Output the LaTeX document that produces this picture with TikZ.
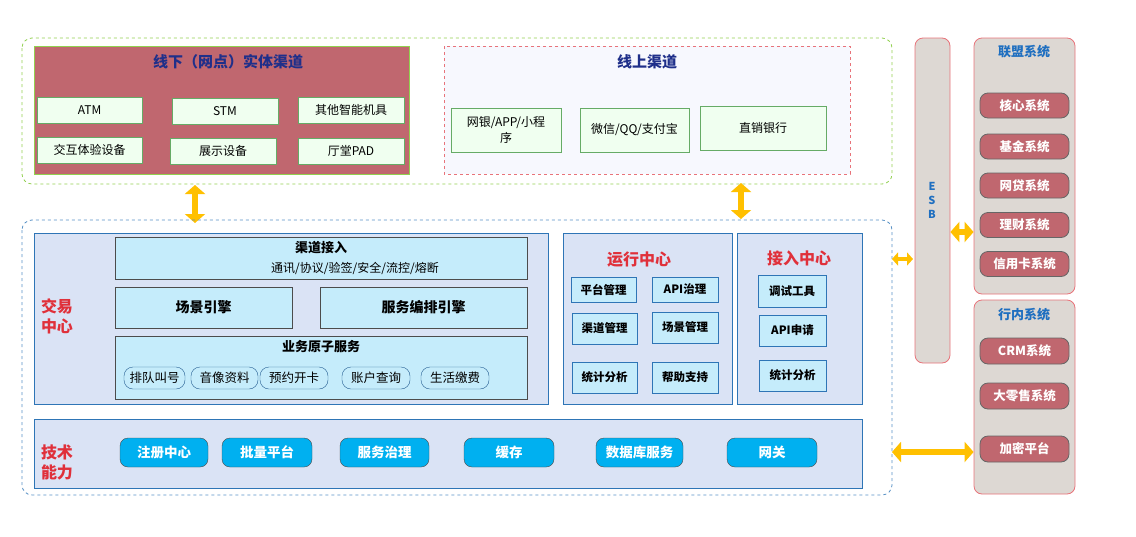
\documentclass[tikz,border=0pt]{standalone}
\usepackage{fontspec}
\setmainfont{Noto Sans CJK SC}
\usetikzlibrary{arrows.meta}
\definecolor{rosefill}{HTML}{C0676F}
\definecolor{dkblue}{HTML}{1F2F8A}
\definecolor{gborder}{HTML}{92D050}
\definecolor{panel}{HTML}{DAE3F5}
\definecolor{pblue}{HTML}{2E75B6}
\definecolor{lcyan}{HTML}{C5ECFB}
\definecolor{cyanb}{HTML}{00B0F0}
\definecolor{grayf}{HTML}{DDD8D3}
\definecolor{redb}{HTML}{E8737A}
\definecolor{ylw}{HTML}{FFC000}
\definecolor{titred}{HTML}{E0303A}
\definecolor{titblue}{HTML}{1F6FC0}
\newcommand{\fs}[1]{\fontsize{#1}{#1}\selectfont}
\begin{document}
\begin{tikzpicture}[x=1pt,y=-1pt,
 white box/.style={draw=green!45!black!60,fill=white!94!green,font=\fs{12},text=black},
 panelbox/.style={draw=pblue,fill=panel,line width=0.8pt},
 cbox/.style={draw=black!70,fill=lcyan,line width=0.8pt},
 sbox/.style={draw=pblue,fill=lcyan,line width=0.8pt,font=\fs{11.5}\bfseries},
 pill/.style={draw=pblue!80!black,fill=lcyan,rounded corners=9pt,font=\fs{12.5}},
 tpill/.style={draw=black!70,fill=cyanb,rounded corners=8pt,font=\fs{13.5}\bfseries,text=white},
 rpill/.style={draw=black!60,fill=rosefill,rounded corners=8pt,font=\fs{12.5}\bfseries,text=white,line width=0.8pt},
 yarr/.style={ylw,line width=6pt,{Triangle[length=9pt,width=20pt]}-{Triangle[length=9pt,width=20pt]}},
]
\useasboundingbox (0,0) rectangle (1136,536);
% top
\draw[gborder,dashed,rounded corners=10pt,line width=0.8pt] (22,38) rectangle (892,184);
\draw[gborder,fill=rosefill,line width=0.8pt] (34,46) rectangle (409,174);
\node[font=\fs{15}\bfseries,text=dkblue] (t1) at (228,62) {线下（网点）实体渠道};
\foreach \n/\a/\b/\c/\d/\t in {a1/37/97/142/123/ATM,a2/172/98/278/124/STM,a3/298/97/404/123/其他智能机具,a4/37/137/142/163/交互体验设备,a5/170/138/276/164/展示设备,a6/298/138/404/164/厅堂PAD}
  \node[white box,minimum width=\c-\a,minimum height=\d-\b,inner sep=0] (\n) at ({(\a+\c)/2},{(\b+\d)/2}) {\t};
\draw[redb,dashed,fill=green!8!blue!3!white,line width=0.8pt] (444,46) rectangle (850,174);
\node[font=\fs{15}\bfseries,text=dkblue] (t2) at (647,62) {线上渠道};
\node[white box,minimum width=110,minimum height=44,inner sep=0,align=center] (o1) at (506,130) {网银/APP/小程\\[2pt]序};
\node[white box,minimum width=109,minimum height=44,inner sep=0] (o2) at (634.5,130) {微信/QQ/支付宝};
\node[white box,minimum width=126,minimum height=44,inner sep=0] (o3) at (763,128) {直销银行};
% arrows top
\coordinate (u1) at (195,185); \coordinate (d1) at (195,223);
\coordinate (u2) at (741,183); \coordinate (d2) at (741,219);
\draw[yarr] (u1) -- (d1);
\draw[yarr] (u2) -- (d2);
% main
\draw[pblue!80,dashed,rounded corners=10pt,line width=0.8pt] (22,220) rectangle (892,495);
\draw[panelbox] (34,233) rectangle (548,404);
\node[font=\fs{16}\bfseries,text=titred,align=left] (jy) at (57,316) {交易\\[4pt]中心};
\node[cbox,minimum width=412,minimum height=42,inner sep=0] (qd) at (321,258) {};
\node[font=\fs{13}\bfseries] (qdt) at (321,248) {渠道接入};
\node[font=\fs{12}] (qds) at (355,268) {通讯/协议/验签/安全/流控/熔断};
\node[cbox,minimum width=177,minimum height=41,inner sep=0,font=\fs{14}\bfseries] (cj) at (203.5,307.5) {场景引擎};
\node[cbox,minimum width=207,minimum height=41,inner sep=0,font=\fs{14}\bfseries] (fw) at (423.5,307.5) {服务编排引擎};
\node[cbox,minimum width=412,minimum height=63,inner sep=0] (yw) at (321,367.5) {};
\node[font=\fs{13}\bfseries] (ywt) at (321,347) {业务原子服务};
\foreach \n/\a/\c/\t in {p1/124/185/排队叫号,p2/191/258/音像资料,p3/260/328/预约开卡,p4/342/410/账户查询,p5/421/489/生活缴费}
  \node[pill,minimum width=\c-\a,minimum height=22,inner sep=0] (\n) at ({(\a+\c)/2},378) {\t};
\draw[panelbox] (563,233) rectangle (732,404);
\node[font=\fs{16}\bfseries,text=titred] (yx) at (639,260) {运行中心};
\foreach \n/\a/\b/\c/\d/\t in {r1/571/277/636/302/平台管理,r2/652/277/718/302/API治理,r3/572/313/637/344/渠道管理,r4/652/312/718/343/场景管理,r5/572/362/637/393/统计分析,r6/652/362/718/393/帮助支持}
  \node[sbox,minimum width=\c-\a,minimum height=\d-\b,inner sep=0] (\n) at ({(\a+\c)/2},{(\b+\d)/2}) {\t};
\draw[panelbox] (737,233) rectangle (862,404);
\node[font=\fs{16}\bfseries,text=titred] (jr) at (799,258) {接入中心};
\foreach \n/\a/\b/\c/\d/\t in {s1/758/275/826/307/调试工具,s2/759/315/826/346/API申请,s3/759/360/826/391/统计分析}
  \node[sbox,minimum width=\c-\a,minimum height=\d-\b,inner sep=0] (\n) at ({(\a+\c)/2},{(\b+\d)/2}) {\t};
\draw[panelbox] (34,419) rectangle (862,488);
\node[font=\fs{16}\bfseries,text=titred,align=left] (js) at (57,462) {技术\\[4pt]能力};
\foreach \n/\a/\c/\t in {k1/120/208/注册中心,k2/222/312/批量平台,k3/340/429/服务治理,k4/464/554/缓存,k5/596/683/数据库服务,k6/727/817/网关}
  \node[tpill,minimum width=\c-\a,minimum height=29,inner sep=0] (\n) at ({(\a+\c)/2},452.5) {\t};
% ESB
\node[draw=redb,fill=grayf,rounded corners=8pt,minimum width=35,minimum height=325,inner sep=0,line width=0.8pt] (esb) at (932.5,200.5) {};
\node[font=\fs{11}\bfseries,text=titblue,align=center] (esbt) at (932,200) {E\\[3pt]S\\[3pt]B};
% right systems
\node[draw=redb,fill=grayf,rounded corners=8pt,minimum width=101,minimum height=256,inner sep=0,line width=0.8pt] (lm) at (1024.5,166) {};
\node[font=\fs{13}\bfseries,text=titblue] (lmt) at (1024,52) {联盟系统};
\foreach \n/\y/\t in {m1/105.5/核心系统,m2/146.5/基金系统,m3/185.5/网贷系统,m4/225/理财系统,m5/264/信用卡系统}
  \node[rpill,minimum width=89,minimum height=25,inner sep=0] (\n) at (1024.5,\y) {\t};
\node[draw=redb,fill=grayf,rounded corners=8pt,minimum width=101,minimum height=194,inner sep=0,line width=0.8pt] (hn) at (1024.5,397) {};
\node[font=\fs{13}\bfseries,text=titblue] (hnt) at (1024,315) {行内系统};
\foreach \n/\y/\t in {n1/351/CRM系统,n2/396/大零售系统,n3/449/加密平台}
  \node[rpill,minimum width=89,minimum height=26,inner sep=0] (\n) at (1024.5,\y) {\t};
% side arrows
\coordinate (e1) at (892,259); \coordinate (e2) at (913,259);
\draw[ylw,line width=4pt,{Triangle[length=6pt,width=13pt]}-{Triangle[length=6pt,width=13pt]}] (e1) -- (e2);
\draw[yarr] (esb.east |- 0,232) -- (lm.west |- 0,232);
\coordinate (b1) at (892,452);
\draw[yarr] (b1) -- (hn.west |- b1);
\end{tikzpicture}
\end{document}
